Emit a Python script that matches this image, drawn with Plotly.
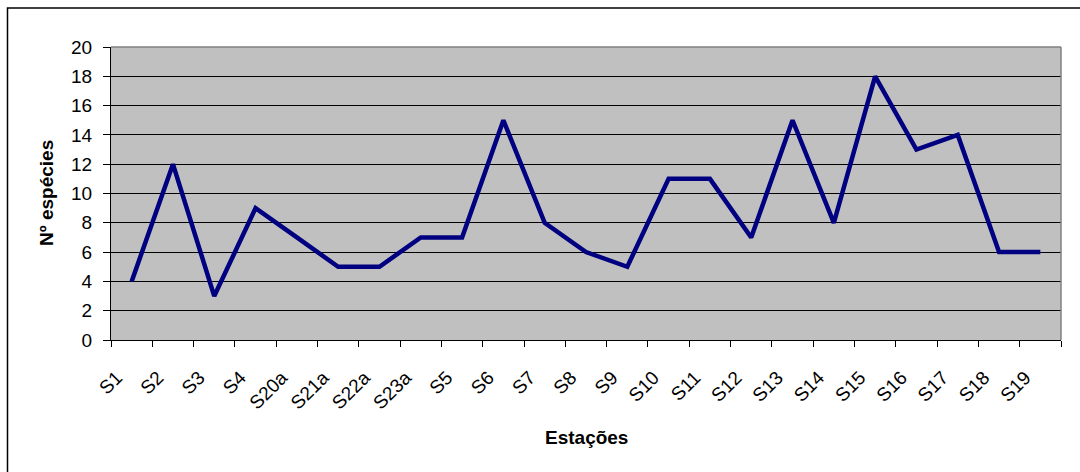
import plotly.graph_objects as go

estacoes = ["S1", "S2", "S3", "S4", "S20a", "S21a", "S22a", "S23a", "S5", "S6",
            "S7", "S8", "S9", "S10", "S11", "S12", "S13", "S14", "S15", "S16",
            "S17", "S18", "S19"]
n_especies = [4, 12, 3, 9, 7, 5, 5, 7, 7, 15, 8, 6, 5, 11, 11, 7, 15, 8, 18, 13,
              14, 6, 6]

W, H = 1080, 472
L, R, T, B = 111, 19, 47, 132
pw, ph = W - L - R, H - T - B

def px_x(p):
    return (p - L) / pw

def px_y(p):
    return (H - B - p) / ph

FONT = "Liberation Sans, Arial, sans-serif"

fig = go.Figure(go.Scatter(
    x=estacoes, y=n_especies, mode="lines",
    line=dict(color="#000080", width=4.5),
    hoverinfo="x+y",
))

fig.update_layout(
    width=W, height=H,
    margin=dict(l=L, r=R, t=T, b=B, autoexpand=False),
    paper_bgcolor="white",
    plot_bgcolor="#C0C0C0",
    showlegend=False,
    font=dict(family=FONT, color="black"),
    xaxis=dict(
        type="category", range=[-0.5, len(estacoes) - 0.5],
        showgrid=False, showline=True, linecolor="black", linewidth=1,
        ticks="outside", ticklen=6, tickcolor="black", tickson="boundaries",
        tickangle=-45, tickfont=dict(size=19, family=FONT),
        ticklabelstandoff=18, ticklabelshift=-15,
        automargin=False,
    ),
    yaxis=dict(
        range=[0, 20], dtick=2, showgrid=True, gridcolor="black", gridwidth=1,
        zeroline=False, showline=True, linecolor="black", linewidth=1,
        ticks="outside", ticklen=7, tickcolor="black",
        tickfont=dict(size=19, family=FONT), ticklabelstandoff=7,
        automargin=False,
    ),
    shapes=[
        # grey frame on the top and right of the plotting area
        dict(type="line", xref="paper", yref="paper", x0=0, x1=1, y0=1, y1=1,
             line=dict(color="#808080", width=1.5)),
        dict(type="line", xref="paper", yref="paper", x0=1, x1=1, y0=0, y1=1,
             line=dict(color="#808080", width=1.5)),
        # outer chart border
        dict(type="rect", xref="paper", yref="paper",
             x0=px_x(7.5), x1=px_x(1090), y0=px_y(8), y1=px_y(490),
             line=dict(color="black", width=1.5), layer="below"),
    ],
    annotations=[
        dict(text="<b>Nº espécies</b>", textangle=-90, xref="paper", yref="paper",
             x=px_x(46), y=px_y(193), xanchor="center", yanchor="middle",
             showarrow=False, font=dict(size=19, family=FONT)),
        dict(text="<b>Estações</b>", xref="paper", yref="paper",
             x=px_x(586), y=px_y(437), xanchor="center", yanchor="middle",
             showarrow=False, font=dict(size=19, family=FONT)),
    ],
)

fig.write_html("out.html")
